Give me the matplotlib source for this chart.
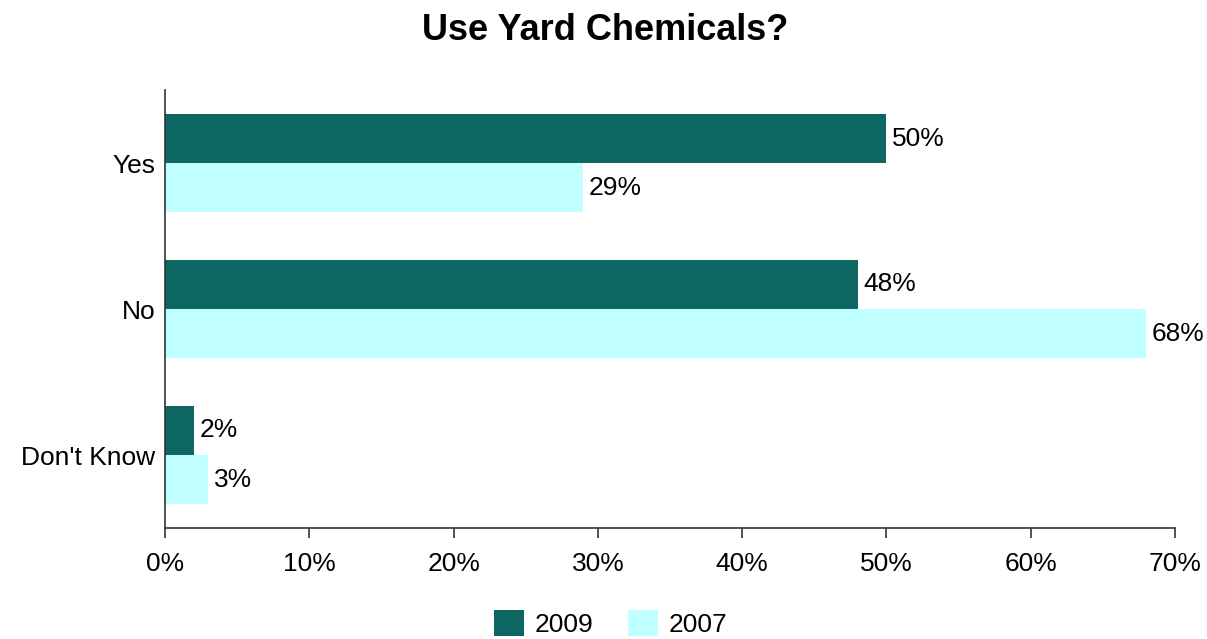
import matplotlib.pyplot as plt
import numpy as np
from matplotlib.ticker import FuncFormatter

plt.rcParams["font.family"] = ["Liberation Sans", "DejaVu Sans"]

categories = ["Yes", "No", "Don't Know"]
series_names = ["2009", "2007"]
values_2009 = [50, 48, 2]
values_2007 = [29, 68, 3]

dark = "#0D6662"
light = "#BFFFFF"
fs = 19

fig = plt.figure(figsize=(12.07, 6.39), dpi=100)
ax = fig.add_axes([0.1367, 0.1737, 0.8368, 0.6854])

pos = np.arange(len(categories))[::-1]
h = 0.336
b1 = ax.barh(pos + h / 2, values_2009, height=h, color=dark, label=series_names[0])
b2 = ax.barh(pos - h / 2, values_2007, height=h, color=light, label=series_names[1])

for bars, vals in ((b1, values_2009), (b2, values_2007)):
    for bar, v in zip(bars, vals):
        ax.annotate(f"{v}%", (v, bar.get_y() + bar.get_height() / 2),
                    xytext=(4, 0), textcoords="offset points",
                    ha="left", va="center", fontsize=fs)

ax.set_xlim(0, 70)
ax.set_ylim(-0.5, 2.5)
ax.set_xticks(range(0, 71, 10))
ax.xaxis.set_major_formatter(FuncFormatter(lambda x, _: f"{int(x)}%"))
ax.set_yticks(pos)
ax.set_yticklabels(categories)
ax.tick_params(axis="x", length=7, width=1.2, labelsize=fs, pad=10, color="#333333")
ax.tick_params(axis="y", length=0, labelsize=fs, pad=7)
for s in ("top", "right"):
    ax.spines[s].set_visible(False)
for s in ("left", "bottom"):
    ax.spines[s].set_color("#333333")
    ax.spines[s].set_linewidth(1.2)

fig.text(0.501, 0.953, "Use Yard Chemicals?", ha="center", va="center",
         fontsize=26, fontweight="bold")

fig.legend(handles=[b1, b2], loc="center", bbox_to_anchor=(0.506, 0.024),
           ncol=2, frameon=False, fontsize=fs, handlelength=1.14, handleheight=1.14,
           columnspacing=1.3, handletextpad=0.4, borderpad=0, borderaxespad=0)

fig.savefig("out.png", dpi=100, facecolor="white")
